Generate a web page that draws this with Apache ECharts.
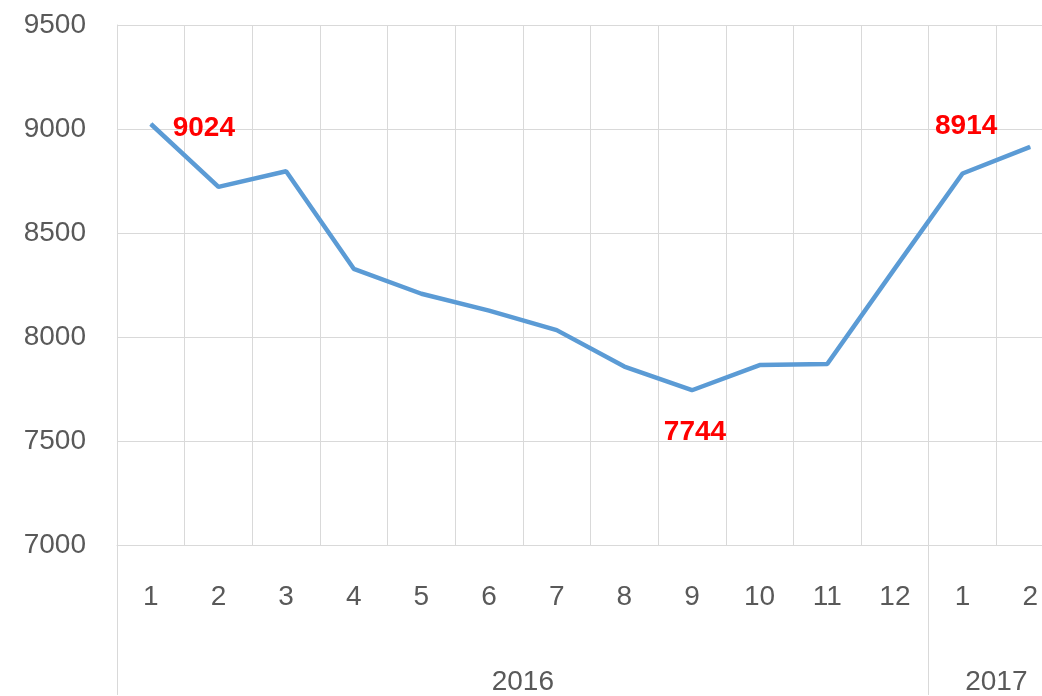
<!DOCTYPE html>
<html>
<head>
<meta charset="utf-8">
<script src="https://cdn.jsdelivr.net/npm/echarts@6/dist/echarts.min.js"></script>
<style>
  html, body { margin: 0; padding: 0; background: #fff; overflow: hidden; }
  /* the plot runs past the right edge of the window, as in the source image */
  #main { width: 1064px; height: 696px; }
</style>
</head>
<body>
<div id="main"></div>
<script>
// months along the axis, 2016-01 .. 2017-02
var months = ['1', '2', '3', '4', '5', '6', '7', '8', '9', '10', '11', '12', '1', '2'];
var values = [9024, 8722, 8797, 8328, 8208, 8127, 8033, 7858, 7744, 7865, 7870, 8330, 8786, 8914];
var years = ['2016', '2017'];
var yearSpans = [[0, 12], [12, 14]];    // category index range of each year
var labelled = [0, 8, 13];               // points that get a red value label

var chart = echarts.init(document.getElementById('main'));

var font = 'Liberation Sans';
var grey = '#595959';
var gridColor = '#d9d9d9';

// where each red label sits relative to its point
var labelOffsets = { 0: [53, 4], 8: [3, 42], 13: [-64, -21] };

var seriesData = values.map(function (v, i) {
    if (labelled.indexOf(i) < 0) return v;
    return {
        value: v,
        label: {
            show: true,
            position: 'inside',
            offset: labelOffsets[i],
            formatter: '{c}',
            color: '#ff0000',
            fontWeight: 'bold',
            fontSize: 28,
            fontFamily: font
        }
    };
});

var yearCenters = yearSpans.map(function (s) { return (s[0] + s[1]) / 2; });
var yearBounds = [yearSpans[0][0]].concat(yearSpans.map(function (s) { return s[1]; }));

option = {
    backgroundColor: '#fff',
    animation: false,
    grid: { left: 117, top: 25, right: 0, bottom: 150 },
    xAxis: [
        {
            type: 'category',
            data: months,
            boundaryGap: true,
            axisLine: { show: true, lineStyle: { color: gridColor, width: 1 } },
            axisTick: { show: false },
            splitLine: { show: true, lineStyle: { color: gridColor, width: 1 } },
            axisLabel: { color: grey, fontSize: 28, fontFamily: font, margin: 38 }
        },
        {
            // second level: years
            type: 'value',
            position: 'bottom',
            min: 0,
            max: months.length,
            axisLine: { show: false },
            splitLine: { show: false },
            axisTick: {
                show: true,
                length: 150,
                customValues: yearBounds,
                lineStyle: { color: gridColor, width: 1 }
            },
            axisLabel: {
                show: true,
                customValues: yearCenters,
                formatter: function (v) {
                    var k = yearCenters.indexOf(v);
                    return k >= 0 ? years[k] : '';
                },
                color: grey,
                fontSize: 28,
                fontFamily: font,
                margin: 123
            }
        }
    ],
    yAxis: {
        type: 'value',
        min: 7000,
        max: 9500,
        interval: 500,
        axisLine: { show: true, lineStyle: { color: gridColor, width: 1 } },
        axisTick: { show: false },
        splitLine: { lineStyle: { color: gridColor, width: 1 } },
        axisLabel: {
            color: grey, fontSize: 28, fontFamily: font, margin: 31,
            formatter: function (v) { return String(v); }
        }
    },
    series: [
        {
            type: 'line',
            xAxisIndex: 0,
            data: seriesData,
            symbol: 'circle',
            symbolSize: 1,
            itemStyle: { color: '#5b9bd5' },
            lineStyle: { color: '#5b9bd5', width: 4.5 },
            silent: true
        }
    ]
};

chart.setOption(option);
</script>
</body>
</html>
